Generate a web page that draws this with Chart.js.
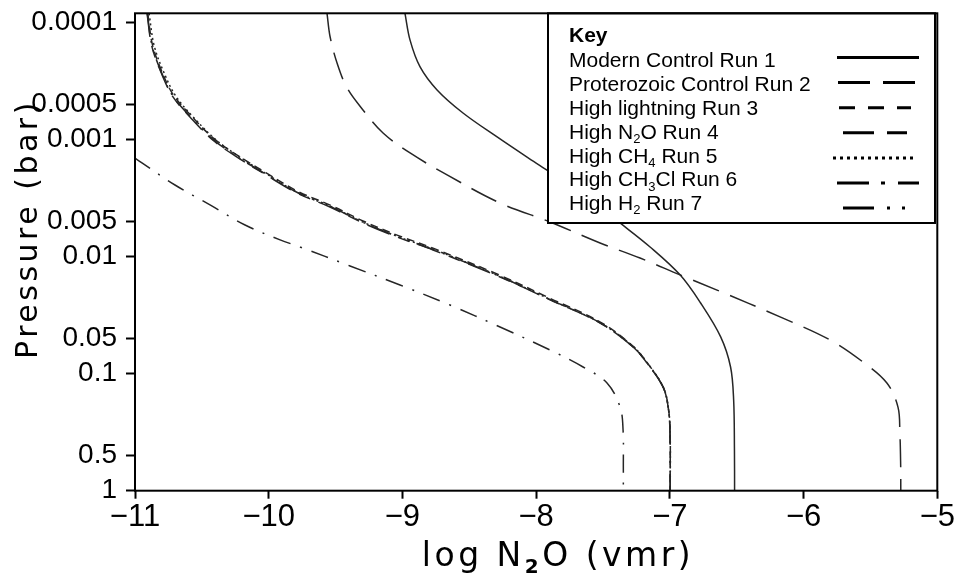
<!DOCTYPE html>
<html>
<head>
<meta charset="utf-8">
<script src="https://cdn.jsdelivr.net/npm/chart.js@4.4.1/dist/chart.umd.min.js"></script>
<style>
html,body{margin:0;padding:0;background:#fff;}
#wrap{width:961px;height:580px;position:relative;}
</style>
</head>
<body>
<div id="wrap"><canvas id="c" width="961" height="580"></canvas></div>
<script>
// ---------- DATA ----------
const xTickValues = [-11, -10, -9, -8, -7, -6, -5];
const xTickLabels = ['−11', '−10', '−9', '−8', '−7', '−6', '−5'];
const yTickValues = [0.0001, 0.0005, 0.001, 0.005, 0.01, 0.05, 0.1, 0.5, 1];
const yTickLabels = ['0.0001', '0.0005', '0.001', '0.005', '0.01', '0.05', '0.1', '0.5', '1'];

const seriesNames = [
  'Modern Control Run 1',
  'Proterozoic Control Run 2',
  'High lightning Run 3',
  'High N₂O Run 4',
  'High CH₄ Run 5',
  'High CH₃Cl Run 6',
  'High H₂ Run 7'
];

// log N2O (vmr) and pressure (bar) for each run
const run1LogN2O = [-8.981, -8.943, -8.868, -8.741, -8.547, -8.292, -8.068, -7.919, -7.634, -7.373, -7.148, -6.924, -6.770, -6.620, -6.546, -6.523, -6.517, -6.516];
const run1Pressure = [8.32e-5, 1.41e-4, 2.39e-4, 3.76e-4, 5.92e-4, 9.48e-4, 1.41e-3, 1.82e-3, 3.03e-3, 5.15e-3, 8.26e-3, 0.0143, 0.0249, 0.0485, 0.0877, 0.168, 0.45, 1];

const run2LogN2O = [-9.564, -9.541, -9.489, -9.414, -9.295, -9.145, -8.943, -8.666, -8.270, -7.896, -7.522, -7.223, -6.924, -6.647, -6.176, -5.802, -5.556, -5.377, -5.294, -5.280, -5.274, -5.273];
const run2Pressure = [8.32e-5, 1.32e-4, 2.21e-4, 3.61e-4, 5.57e-4, 8.77e-4, 1.30e-3, 2.0e-3, 3.48e-3, 5.05e-3, 7.64e-3, 0.01026, 0.0143, 0.0193, 0.0327, 0.0515, 0.0794, 0.120, 0.193, 0.321, 0.6, 1];

const run3LogN2O = [-10.905, -10.868, -10.786, -10.710, -10.582, -10.410, -10.230, -10.036, -9.782, -9.536, -9.290, -9.035, -8.766, -8.266, -7.893, -7.520, -7.274, -7.170, -7.050, -7.012, -6.998, -6.998];
const run3Pressure = [8.32e-5, 1.57e-4, 2.84e-4, 4.20e-4, 6.22e-4, 0.98e-3, 1.37e-3, 1.87e-3, 2.77e-3, 3.64e-3, 4.98e-3, 6.58e-3, 8.50e-3, 0.0145, 0.0228, 0.0362, 0.0585, 0.0805, 0.130, 0.193, 0.321, 1];

const run4LogN2O = [-10.910, -10.873, -10.791, -10.716, -10.589, -10.417, -10.237, -10.043, -9.788, -9.542, -9.295, -9.040, -8.771, -8.270, -7.896, -7.522, -7.275, -7.171, -7.051, -7.013, -6.999, -6.998];
const run4Pressure = [8.32e-5, 1.61e-4, 2.91e-4, 4.31e-4, 6.40e-4, 1.01e-3, 1.41e-3, 1.93e-3, 2.86e-3, 3.76e-3, 5.15e-3, 6.79e-3, 8.77e-3, 0.0149, 0.0234, 0.0369, 0.0592, 0.0811, 0.130, 0.193, 0.321, 1];

const run5LogN2O = [-10.895, -10.855, -10.770, -10.692, -10.566, -10.396, -10.220, -10.030, -9.780, -9.535, -9.290, -9.035, -8.765, -8.266, -7.892, -7.520, -7.272, -7.168, -7.050, -7.012, -6.998, -6.997];
const run5Pressure = [8.32e-5, 1.60e-4, 2.90e-4, 4.30e-4, 6.38e-4, 1.0e-3, 1.40e-3, 1.92e-3, 2.84e-3, 3.72e-3, 5.10e-3, 6.72e-3, 8.68e-3, 0.0148, 0.0233, 0.0368, 0.0590, 0.0810, 0.130, 0.193, 0.321, 1];

const run6LogN2O = [-11.0, -10.948, -10.701, -10.439, -10.177, -9.915, -9.766, -9.392, -9.018, -8.644, -8.270, -7.896, -7.649, -7.470, -7.372, -7.350, -7.348, -7.348];
const run6Pressure = [1.44e-3, 1.58e-3, 2.44e-3, 3.61e-3, 5.36e-3, 7.19e-3, 8.26e-3, 0.0120, 0.01746, 0.0259, 0.0399, 0.0627, 0.0877, 0.120, 0.193, 0.303, 0.6, 1];

const run7LogN2O = [-10.908, -10.871, -10.789, -10.714, -10.587, -10.415, -10.235, -10.041, -9.786, -9.540, -9.293, -9.038, -8.769, -8.269, -7.895, -7.521, -7.275, -7.171, -7.051, -7.013, -6.999, -6.998];
const run7Pressure = [8.32e-5, 1.60e-4, 2.89e-4, 4.28e-4, 6.35e-4, 1.0e-3, 1.40e-3, 1.91e-3, 2.83e-3, 3.72e-3, 5.10e-3, 6.73e-3, 8.70e-3, 0.0148, 0.0233, 0.0368, 0.0591, 0.0810, 0.130, 0.193, 0.321, 1];

const allLogN2O = [run1LogN2O, run2LogN2O, run3LogN2O, run4LogN2O, run5LogN2O, run6LogN2O, run7LogN2O];
const allPressure = [run1Pressure, run2Pressure, run3Pressure, run4Pressure, run5Pressure, run6Pressure, run7Pressure];

// ---------- STYLES ----------
const plotDash = [[], [28, 12], [8, 5], [24, 9, 12, 9], [2, 3], [18, 10, 2, 10], [20, 8, 2, 7, 2, 8]];
const keyDash = [[], [32, 13], [16, 13], [31, 13], [3, 4], [32, 12, 4, 13], [31, 13, 3, 12, 3, 40]];
const keyX0 = [837, 838, 839, 843, 833, 837, 843];
const keyX1 = [919, 918, 911, 907, 916, 919, 905];

const datasets = seriesNames.map((name, i) => ({
  label: name,
  data: allLogN2O[i].map((x, j) => ({ x: x, y: allPressure[i][j] })),
  showLine: true,
  borderColor: '#262626',
  borderWidth: 1.5,
  borderDash: plotDash[i],
  pointRadius: 0,
  tension: 0.35,
  fill: false
}));

const SUBS = {'₀':'0','₁':'1','₂':'2','₃':'3','₄':'4','₅':'5','₆':'6','₇':'7','₈':'8','₉':'9'};
function drawRich(ctx, text, x, y, size, family, weight, spacing, subWeight) {
  let cx = x;
  ctx.letterSpacing = (spacing || 0) + 'px';
  let buf = '';
  const flush = () => {
    if (!buf) return;
    ctx.font = weight + ' ' + size + 'px ' + family;
    ctx.fillText(buf, cx, y);
    cx += ctx.measureText(buf).width;
    buf = '';
  };
  for (const ch of text) {
    if (SUBS[ch]) {
      flush();
      const ss = Math.round(size * 0.62);
      ctx.font = (subWeight || weight) + ' ' + ss + 'px ' + family;
      ctx.fillText(SUBS[ch], cx, y + size * 0.2);
      cx += ctx.measureText(SUBS[ch]).width;
    } else buf += ch;
  }
  flush();
  ctx.letterSpacing = '0px';
  return cx - x;
}
function measureRich(ctx, text, size, family, weight, spacing, subWeight) {
  ctx.letterSpacing = (spacing || 0) + 'px';
  let w = 0, buf = '';
  for (const ch of text) {
    if (SUBS[ch]) {
      if (buf) { ctx.font = weight + ' ' + size + 'px ' + family; w += ctx.measureText(buf).width; buf = ''; }
      ctx.font = (subWeight || weight) + ' ' + Math.round(size * 0.62) + 'px ' + family; w += ctx.measureText(SUBS[ch]).width;
    } else buf += ch;
  }
  if (buf) { ctx.font = weight + ' ' + size + 'px ' + family; w += ctx.measureText(buf).width; }
  ctx.letterSpacing = '0px';
  return w;
}

const decorPlugin = {
  id: 'decor',
  afterDatasetsDraw(chart) {
    const ctx = chart.ctx;
    const a = chart.chartArea;
    ctx.save();
    // key box
    const bx0 = 548, by0 = a.top, bx1 = 935, by1 = 223;
    ctx.fillStyle = '#fff';
    ctx.fillRect(bx0, by0, bx1 - bx0, by1 - by0);
    ctx.strokeStyle = '#000';
    ctx.lineWidth = 2;
    ctx.strokeRect(bx0, by0, bx1 - bx0, by1 - by0);
    ctx.fillStyle = '#000';
    ctx.textBaseline = 'alphabetic';
    ctx.textAlign = 'left';
    ctx.font = 'bold 21px "Liberation Sans", Arial, sans-serif';
    ctx.fillText('Key', 569, 42);
    chart.data.datasets.forEach((ds, i) => {
      const base = 67.3 + 23.8 * i;
      drawRich(ctx, ds.label, 569, base, 21, '"Liberation Sans", Arial, sans-serif', 'normal', 0);
      const sy = 57.5 + 25.1 * i;
      ctx.beginPath();
      ctx.setLineDash(keyDash[i]);
      ctx.lineWidth = 3;
      ctx.lineCap = 'butt';
      ctx.moveTo(keyX0[i], sy);
      ctx.lineTo(keyX1[i], sy);
      ctx.stroke();
    });
    ctx.setLineDash([]);
    // frame
    ctx.lineWidth = 2;
    ctx.strokeStyle = '#000';
    ctx.strokeRect(a.left, a.top, a.right - a.left, a.bottom - a.top);
    // axis titles
    ctx.fillStyle = '#000';
    const fam = '"DejaVu Sans", sans-serif';
    const xt = 'log N₂O (vmr)';
    const xw = measureRich(ctx, xt, 33, fam, 'normal', 3.5, 'bold');
    drawRich(ctx, xt, 558 - xw / 2, 566, 33, fam, 'normal', 3.5, 'bold');
    const yt = 'Pressure (bar)';
    ctx.translate(37, 229);
    ctx.rotate(-Math.PI / 2);
    const yw = measureRich(ctx, yt, 30, fam, 'normal', 3.5);
    drawRich(ctx, yt, -yw / 2, 0, 30, fam, 'normal', 3.5);
    ctx.restore();
  }
};

new Chart(document.getElementById('c'), {
  type: 'scatter',
  data: { datasets: datasets },
  options: {
    responsive: false,
    animation: false,
    devicePixelRatio: 1,
    layout: { padding: { top: 13.3, right: 23.7, left: 0, bottom: 0 } },
    plugins: { legend: { display: false }, tooltip: { enabled: false }, title: { display: false } },
    elements: { point: { radius: 0 } },
    scales: {
      x: {
        type: 'linear',
        min: -11, max: -5,
        afterBuildTicks: s => { s.ticks = xTickValues.map(v => ({ value: v })); },
        afterFit: s => { s.height = 89.3; s.paddingLeft = 0; s.paddingRight = 0; },
        border: { display: false },
        grid: { drawOnChartArea: false, drawTicks: true, tickLength: 8, tickWidth: 2, tickColor: '#000' },
        ticks: {
          color: '#000',
          font: { family: '"Liberation Sans", Arial, sans-serif', size: 31 },
          padding: 0,
          maxRotation: 0,
          autoSkip: false,
          callback: (v, i) => xTickLabels[i]
        }
      },
      y: {
        type: 'logarithmic',
        reverse: true,
        min: 8.32e-5, max: 1,
        afterBuildTicks: s => { s.ticks = yTickValues.map(v => ({ value: v })); },
        afterFit: s => { s.width = 135; s.paddingTop = 0; s.paddingBottom = 0; },
        border: { display: false },
        grid: { drawOnChartArea: false, drawTicks: true, tickLength: 9, tickWidth: 2, tickColor: '#000' },
        ticks: {
          color: '#000',
          font: { family: '"Liberation Sans", Arial, sans-serif', size: 28 },
          padding: 9,
          autoSkip: false,
          callback: (v, i) => yTickLabels[i]
        }
      }
    }
  },
  plugins: [decorPlugin]
});
</script>
</body>
</html>
